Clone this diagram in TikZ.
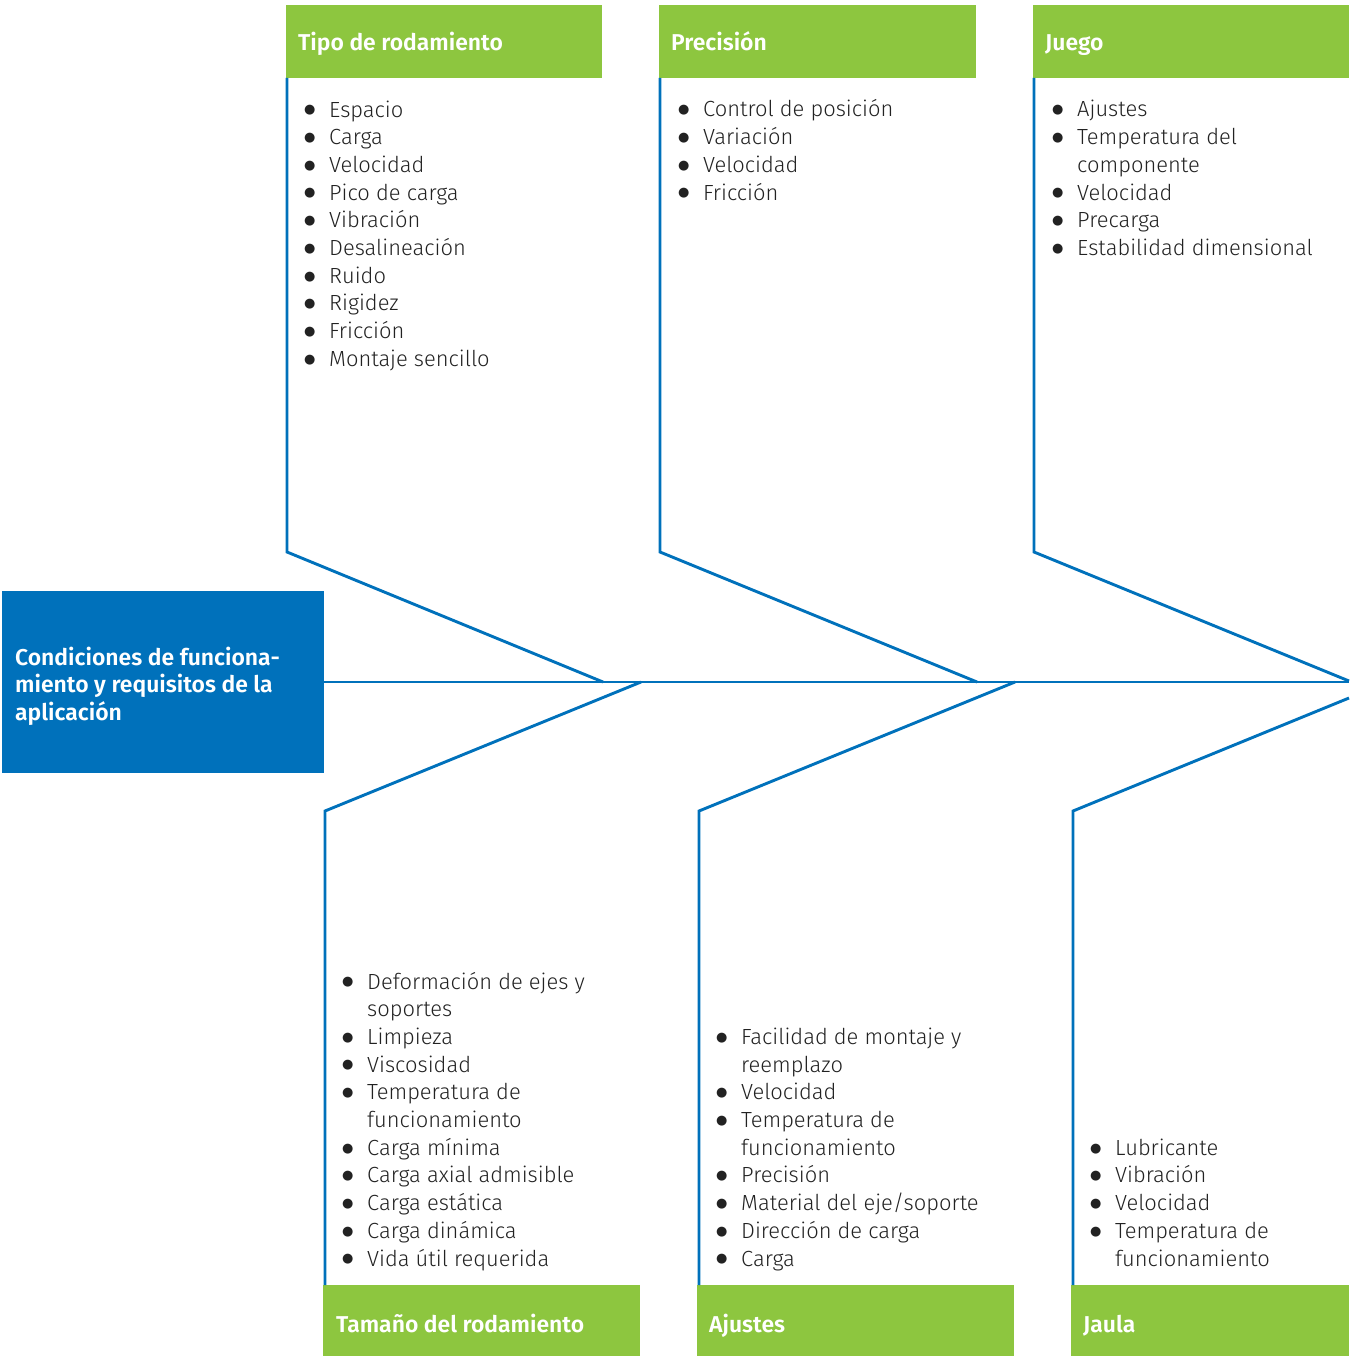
\documentclass[tikz,border=0pt]{standalone}
\usepackage{fontspec}
\setmainfont{Fira Sans}[BoldFont={Fira Sans SemiBold}]
\newfontfamily\bodyfont{Fira Sans Light}
\newfontfamily\symfont{DejaVu Sans}
\definecolor{skfblue}{HTML}{0071BB}
\definecolor{skfgreen}{HTML}{8DC63F}
\definecolor{txtgray}{HTML}{222222}
\newcommand{\bul}{\makebox[25pt][l]{\raisebox{3.2pt}{\symfont\fontsize{13}{13}\selectfont ●}}}
\newcommand{\cont}{\hspace*{25pt}}
\begin{document}
\begin{tikzpicture}[x=1pt,y=-1pt,
  bone/.style={draw=skfblue,line width=2.9pt,line join=miter},
  greenbox/.style={fill=skfgreen,draw=none,inner sep=0pt,minimum height=73pt},
  headtxt/.style={anchor=base west,inner sep=0pt,text=white,font=\fontsize{22.9}{27.7}\selectfont\bfseries},
  listtxt/.style={anchor=base west,inner sep=0pt,align=left,text=txtgray,font=\bodyfont\fontsize{21.9}{27.7}\selectfont}]
\useasboundingbox (0,0) rectangle (1349,1356);
% central box
\node[fill=skfblue,inner sep=0pt,minimum width=322pt,minimum height=182pt] (cond) at (163,682) {};
\node[headtxt,align=left] (condtxt) at (15,720.4) {Condiciones de funciona-\\miento y requisitos de la\\aplicación};
\coordinate (spineend) at (1349,682);
\draw[bone] (cond.east) -- (spineend);
% top headers
\node[greenbox,minimum width=316pt] (h1) at (444,41.5) {};
\node[greenbox,minimum width=317pt] (h2) at (817.5,41.5) {};
\node[greenbox,minimum width=316pt] (h3) at (1191,41.5) {};
\node[headtxt] (h1t) at (298,51) {Tipo de rodamiento};
\node[headtxt] (h2t) at (671,51) {Precisión};
\node[headtxt] (h3t) at (1045,51) {Juego};
% bottom headers
\node[greenbox,minimum width=317pt,minimum height=71pt] (b1) at (481.5,1320.5) {};
\node[greenbox,minimum width=317pt,minimum height=71pt] (b2) at (855.5,1320.5) {};
\node[greenbox,minimum width=278pt,minimum height=71pt] (b3) at (1210,1320.5) {};
\node[headtxt] (b1t) at (336,1332) {Tamaño del rodamiento};
\node[headtxt] (b2t) at (709,1332) {Ajustes};
\node[headtxt] (b3t) at (1083,1332) {Jaula};
% bones
\coordinate (t1a) at (287,78); \coordinate (t1b) at (287,552); \coordinate (t1c) at (603,682);
\coordinate (t2a) at (660,78); \coordinate (t2b) at (660,552); \coordinate (t2c) at (977,682);
\coordinate (t3a) at (1034,78); \coordinate (t3b) at (1034,552); \coordinate (t3c) at (1349,681);
\coordinate (u1a) at (325,1285); \coordinate (u1b) at (325,811); \coordinate (u1c) at (641,682);
\coordinate (u2a) at (699,1285); \coordinate (u2b) at (699,811); \coordinate (u2c) at (1015,682);
\coordinate (u3a) at (1073,1285); \coordinate (u3b) at (1073,811); \coordinate (u3c) at (1349,698);
\draw[bone] (t1a) -- (t1b) -- (t1c);
\draw[bone] (t2a) -- (t2b) -- (t2c);
\draw[bone] (t3a) -- (t3b) -- (t3c);
\draw[bone] (u1a) -- (u1b) -- (u1c);
\draw[bone] (u2a) -- (u2b) -- (u2c);
\draw[bone] (u3a) -- (u3b) -- (u3c);
% lists (anchor = baseline of last line)
\node[listtxt] (l1) at (304,366.3) {\bul Espacio\\\bul Carga\\\bul Velocidad\\\bul Pico de carga\\\bul Vibración\\\bul Desalineación\\\bul Ruido\\\bul Rigidez\\\bul Fricción\\\bul Montaje sencillo};
\node[listtxt] (l2) at (678,200.1) {\bul Control de posición\\\bul Variación\\\bul Velocidad\\\bul Fricción};
\node[listtxt] (l3) at (1052,255.5) {\bul Ajustes\\\bul Temperatura del\\\cont componente\\\bul Velocidad\\\bul Precarga\\\bul Estabilidad dimensional};
\node[listtxt] (l4) at (342,1266) {\bul Deformación de ejes y\\\cont soportes\\\bul Limpieza\\\bul Viscosidad\\\bul Temperatura de\\\cont funcionamiento\\\bul Carga mínima\\\bul Carga axial admisible\\\bul Carga estática\\\bul Carga dinámica\\\bul Vida útil requerida};
\node[listtxt] (l5) at (716,1266) {\bul Facilidad de montaje y\\\cont reemplazo\\\bul Velocidad\\\bul Temperatura de\\\cont funcionamiento\\\bul Precisión\\\bul Material del eje/soporte\\\bul Dirección de carga\\\bul Carga};
\node[listtxt] (l6) at (1090,1266) {\bul Lubricante\\\bul Vibración\\\bul Velocidad\\\bul Temperatura de\\\cont funcionamiento};
\end{tikzpicture}
\end{document}
